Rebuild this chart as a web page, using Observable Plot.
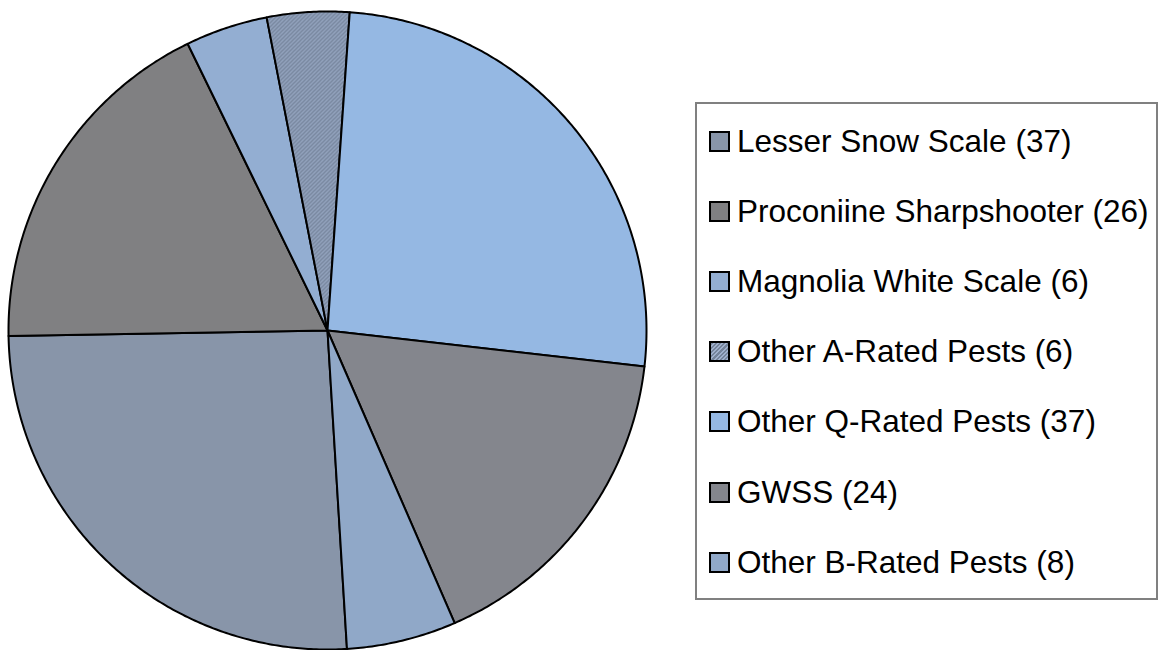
<!DOCTYPE html>
<html>
<head>
<meta charset="utf-8">
<script src="https://cdn.jsdelivr.net/npm/d3@7"></script>
<script src="https://cdn.jsdelivr.net/npm/@observablehq/plot@0.6"></script>
<style>
  html, body { margin: 0; padding: 0; background: #fff; }
  #wrap { position: relative; width: 1162px; height: 650px; overflow: hidden; }
  #chart { position: absolute; left: 0; top: 0; }
  #legend { position: absolute; left: 695px; top: 102px; width: 459px; height: 494px;
            border: 2px solid #808080; box-sizing: content-box; background: #fff;
            font-family: "Liberation Sans", Arial, sans-serif; }
  .item { position: absolute; left: 12px; height: 34px; display: flex; align-items: center;
          font-size: 31.5px; color: #000; white-space: nowrap; }
  .sw { width: 17px; height: 17px; border: 2px solid #000; margin-right: 7px; flex: none; }
</style>
</head>
<body>
<div id="wrap">
  <div id="chart"></div>
  <div id="legend"></div>
</div>
<script>
// ---- data ----
const categories = ["Lesser Snow Scale", "Proconiine Sharpshooter", "Magnolia White Scale",
                    "Other A-Rated Pests", "Other Q-Rated Pests", "GWSS", "Other B-Rated Pests"];
const counts = [37, 26, 6, 6, 37, 24, 8];
const colors = ["#8895a9", "#808082", "#93aed2", "url(#hatchA)", "#95b8e3", "#84868d", "#90a8c8"];
const swatchColors = ["#8895a9", "#808082", "#93aed2", "#8c9cb6", "#95b8e3", "#84868d", "#90a8c8"];
const firstSliceStartDeg = 176.5;

// ---- build slice polygons with d3.pie ----
const toRad = Math.PI / 180;
const pie = d3.pie().sort(null).value(d => d.count)
  .startAngle(firstSliceStartDeg * toRad).endAngle((firstSliceStartDeg + 360) * toRad);
const arcs = pie(categories.map((name, i) => ({name, count: counts[i]})));
const pts = [];
for (const a of arcs) {
  const name = a.data.name;
  pts.push({name, x: 0, y: 0});
  const n = Math.max(4, Math.ceil((a.endAngle - a.startAngle) / (0.5 * toRad)));
  for (let k = 0; k <= n; k++) {
    const t = a.startAngle + (a.endAngle - a.startAngle) * k / n;
    pts.push({name, x: Math.sin(t), y: Math.cos(t)});
  }
}

const cx = 327, cy = 330, r = 319;
const chart = Plot.plot({
  width: 1162,
  height: 650,
  margin: 0,
  x: {domain: [-1, 1], range: [cx - r, cx + r], axis: null},
  y: {domain: [-1, 1], range: [cy + r, cy - r], axis: null},
  color: {domain: categories, range: colors},
  marks: [
    Plot.line(pts, {x: "x", y: "y", z: "name", fill: "name", stroke: "#000",
                    strokeWidth: 2, curve: "linear-closed", strokeLinejoin: "round"})
  ]
});
// pattern for the hatched slice
const defs = d3.select(chart).insert("defs", ":first-child");
const pat = defs.append("pattern").attr("id", "hatchA").attr("patternUnits", "userSpaceOnUse")
  .attr("width", 4).attr("height", 4);
pat.append("rect").attr("width", 4).attr("height", 4).attr("fill", "#9fb0cc");
pat.append("path").attr("d", "M-1,1 l2,-2 M0,4 l4,-4 M3,5 l2,-2")
  .attr("stroke", "#74839a").attr("stroke-width", 1.6);
document.getElementById("chart").appendChild(chart);

// ---- legend ----
const legend = document.getElementById("legend");
categories.forEach((name, i) => {
  const it = document.createElement("div");
  it.className = "item";
  it.style.top = (37 + i * 70.2 - 17) + "px";
  const sw = document.createElement("div");
  sw.className = "sw";
  sw.style.background = swatchColors[i];
  if (i === 3) sw.style.background = "repeating-linear-gradient(135deg, #74839a 0 1.5px, #9fb0cc 1.5px 3px)";
  const tx = document.createElement("span");
  tx.textContent = `${name} (${counts[i]})`;
  it.appendChild(sw); it.appendChild(tx);
  legend.appendChild(it);
});
</script>
</body>
</html>
